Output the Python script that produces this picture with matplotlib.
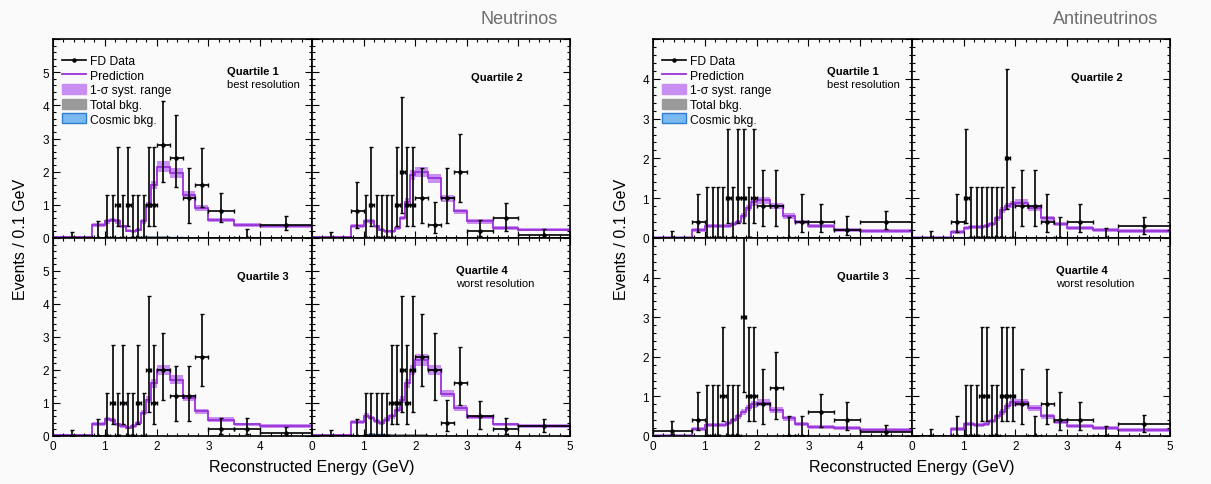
import numpy as np
import matplotlib.pyplot as plt
from matplotlib.patches import Patch
from matplotlib.lines import Line2D
from matplotlib.ticker import MultipleLocator

plt.rcParams['font.family'] = ['Liberation Sans', 'DejaVu Sans']

# reconstructed energy bin edges (GeV)
edges = np.array([0.0, 0.75, 1.0, 1.1, 1.2, 1.3, 1.4, 1.5, 1.6, 1.7, 1.8, 1.9,
                  2.0, 2.25, 2.5, 2.75, 3.0, 3.5, 4.0, 5.0])

# Feldman-Cousins 68% intervals for n = 0..10 observed events
fc_lo = [0.00, 0.37, 0.74, 1.10, 2.34, 2.75, 3.82, 4.25, 5.30, 6.33, 6.78]
fc_hi = [1.29, 2.75, 4.25, 5.30, 6.78, 7.81, 9.28, 10.30, 11.32, 12.79, 13.81]

# neutrino mode: observed events per bin
nu_q1_counts = [0, 0, 0, 0, 1, 0, 1, 0, 0, 0, 1, 1, 7, 6, 3, 4, 4, 0, 4]
nu_q2_counts = [0, 2, 0, 1, 0, 0, 0, 0, 1, 2, 1, 1, 3, 1, 3, 5, 1, 3, 1]
nu_q3_counts = [0, 0, 0, 1, 0, 1, 0, 0, 1, 0, 2, 1, 5, 3, 3, 6, 1, 1, 1]
nu_q4_counts = [0, 0, 0, 0, 0, 0, 0, 1, 1, 2, 1, 2, 6, 5, 1, 4, 3, 1, 3]

# neutrino mode: prediction (events / 0.1 GeV)
nu_q1_pred = [0.02, 0.40, 0.50, 0.55, 0.50, 0.35, 0.22, 0.20, 0.25, 0.50, 1.00, 1.60,
              2.15, 1.95, 1.30, 0.90, 0.55, 0.40, 0.35]
nu_q2_pred = [0.02, 0.37, 0.52, 0.50, 0.35, 0.25, 0.20, 0.20, 0.30, 0.60, 1.10, 1.90,
              2.00, 1.80, 1.20, 0.80, 0.50, 0.30, 0.25]
nu_q3_pred = [0.02, 0.37, 0.52, 0.48, 0.35, 0.30, 0.25, 0.30, 0.40, 0.70, 1.10, 1.60,
              2.00, 1.70, 1.15, 0.75, 0.50, 0.35, 0.30]
nu_q4_pred = [0.03, 0.42, 0.62, 0.55, 0.45, 0.40, 0.50, 0.60, 0.80, 1.10, 1.60, 2.00,
              2.30, 2.00, 1.28, 0.85, 0.57, 0.35, 0.30]

# antineutrino mode: observed events per bin
anu_q1_counts = [0, 1, 0, 0, 0, 0, 1, 0, 1, 1, 0, 1, 2, 2, 0, 1, 2, 1, 4]
anu_q2_counts = [0, 1, 1, 0, 0, 0, 0, 0, 0, 0, 2, 0, 2, 2, 1, 0, 2, 0, 3]
anu_q3_counts = [1, 1, 0, 0, 0, 1, 0, 0, 0, 3, 1, 1, 2, 3, 0, 0, 3, 2, 1]
anu_q4_counts = [0, 0, 0, 0, 0, 1, 1, 0, 0, 1, 1, 1, 2, 0, 2, 1, 2, 0, 3]

# antineutrino mode: prediction (events / 0.1 GeV)
anu_q1_pred = [0.01, 0.20, 0.30, 0.30, 0.30, 0.30, 0.30, 0.35, 0.40, 0.55, 0.75, 0.90,
               0.95, 0.80, 0.55, 0.40, 0.30, 0.20, 0.18]
anu_q2_pred = [0.01, 0.15, 0.25, 0.28, 0.28, 0.28, 0.30, 0.35, 0.50, 0.70, 0.80, 0.85,
               0.88, 0.75, 0.50, 0.35, 0.25, 0.20, 0.17]
anu_q3_pred = [0.01, 0.18, 0.28, 0.28, 0.28, 0.28, 0.32, 0.40, 0.50, 0.60, 0.70, 0.80,
               0.84, 0.65, 0.45, 0.30, 0.22, 0.20, 0.15]
anu_q4_pred = [0.00, 0.18, 0.30, 0.30, 0.28, 0.28, 0.30, 0.38, 0.50, 0.60, 0.75, 0.85,
               0.85, 0.70, 0.50, 0.35, 0.25, 0.20, 0.15]

# backgrounds (events / 0.1 GeV)
nu_q1_bkg = [0.0, 0.01, 0.01, 0.01, 0.01, 0.01, 0.01, 0.02, 0.02, 0.04, 0.05, 0.05,
             0.05, 0.04, 0.02, 0.02, 0.01, 0.01, 0.01]
nu_q1_cos = [0.0, 0.0, 0.0, 0.0, 0.0, 0.0, 0.01, 0.01, 0.02, 0.03, 0.04, 0.04,
             0.04, 0.02, 0.01, 0.0, 0.0, 0.0, 0.0]
nu_q4_bkg = [0.01, 0.02, 0.07, 0.08, 0.07, 0.06, 0.05, 0.05, 0.05, 0.05, 0.05, 0.05,
             0.05, 0.04, 0.03, 0.02, 0.02, 0.01, 0.01]
nu_q4_cos = [0.0, 0.01, 0.06, 0.07, 0.06, 0.05, 0.03, 0.02, 0.01, 0.01, 0.01, 0.01,
             0.01, 0.01, 0.0, 0.0, 0.0, 0.0, 0.0]
small_bkg = [0.0, 0.01, 0.01, 0.01, 0.01, 0.01, 0.01, 0.01, 0.01, 0.01, 0.01, 0.01,
             0.01, 0.01, 0.01, 0.01, 0.01, 0.0, 0.0]
small_cos = [0.0] * 19

syst_frac = 0.06
syst_abs = 0.035

line_color = '#9a30d8'
band_color = '#c98ef2'
bkg_color = '#9a9a9a'
cos_fill = '#7ab8f0'
cos_edge = '#2f7fd0'
bg = '#fafafa'

W, H = 1211, 485
fig = plt.figure(figsize=(W / 100, H / 100), dpi=100, facecolor=bg)


def add_ax(x0, x1, y0, y1):
    return fig.add_axes([x0 / W, 1 - y1 / H, (x1 - x0) / W, (y1 - y0) / H], facecolor=bg)


def draw_panel(ax, counts, pred, tot_bkg, cos_bkg, ymax):
    widths = np.diff(edges)
    centers = edges[:-1] + widths / 2
    scale = 0.1 / widths
    counts = np.array(counts)
    pred = np.array(pred)
    y = counts * scale
    lo = (counts - np.array(fc_lo)[counts]) * scale
    hi = (np.array(fc_hi)[counts] - counts) * scale
    err = pred * syst_frac + syst_abs
    ax.stairs(pred + err, edges, baseline=pred - err, fill=True, color=band_color, lw=0)
    ax.stairs(tot_bkg, edges, fill=True, color=bkg_color, lw=0)
    ax.stairs(cos_bkg, edges, fill=True, color=cos_fill, lw=0)
    ax.stairs(cos_bkg, edges, color=cos_edge, lw=1.0)
    ax.stairs(pred, edges, color=line_color, lw=1.3)
    ax.errorbar(centers, y, xerr=widths / 2, yerr=[lo, hi], fmt='o', ms=2.2,
                color='k', lw=1.2, capsize=1.5, capthick=1.0)
    ax.set_xlim(0, 5)
    ax.set_ylim(0, ymax)
    ax.xaxis.set_minor_locator(MultipleLocator(0.2))
    ax.yaxis.set_minor_locator(MultipleLocator(0.2))
    ax.tick_params(which='both', direction='in', top=True, right=True, labelsize=8.5,
                   width=0.8, pad=3)
    ax.tick_params(which='major', length=5)
    ax.tick_params(which='minor', length=2.5)
    for s in ax.spines.values():
        s.set_linewidth(1.2)


def label_ticks(ax, ymax, left, bottom, last_x):
    ax.set_xticks(range(6))
    ax.set_yticks(range(ymax + 1))
    if bottom:
        ax.set_xticklabels([str(i) for i in range(5)] + (['5'] if last_x else ['']))
    else:
        ax.set_xticklabels([''] * 6)
    if left:
        ax.set_yticklabels([str(i) for i in range(ymax)] + [''])
    else:
        ax.set_yticklabels([''] * (ymax + 1))


def add_legend(ax):
    handles = [
        Line2D([0], [0], color='k', lw=1.2, marker='o', ms=2.2),
        Line2D([0], [0], color=line_color, lw=1.3),
        Patch(facecolor=band_color, edgecolor=band_color),
        Patch(facecolor=bkg_color, edgecolor=bkg_color),
        Patch(facecolor=cos_fill, edgecolor=cos_edge),
    ]
    labels = ['FD Data', 'Prediction', '1-σ syst. range', 'Total bkg.', 'Cosmic bkg.']
    ax.legend(handles, labels, loc='upper left', bbox_to_anchor=(0.035, 0.92), frameon=False,
              fontsize=8.7, handlelength=2.0, handleheight=0.9, handletextpad=0.3,
              labelspacing=0.2, borderpad=0, borderaxespad=0)


def quartile_text(ax, x, y, name, sub=None):
    ax.text(x, y, name, transform=ax.transAxes, fontsize=8, fontweight='bold', va='center')
    if sub:
        ax.text(x, y - 0.065, sub, transform=ax.transAxes, fontsize=8, va='center')


groups = [
    (53, 312, 570, 6, 'Neutrinos',
     [(nu_q1_counts, nu_q1_pred, nu_q1_bkg, nu_q1_cos),
      (nu_q2_counts, nu_q2_pred, small_bkg, small_cos),
      (nu_q3_counts, nu_q3_pred, small_bkg, small_cos),
      (nu_q4_counts, nu_q4_pred, nu_q4_bkg, nu_q4_cos)]),
    (653, 912, 1170, 5, 'Antineutrinos',
     [(anu_q1_counts, anu_q1_pred, small_bkg, small_cos),
      (anu_q2_counts, anu_q2_pred, small_bkg, small_cos),
      (anu_q3_counts, anu_q3_pred, small_bkg, small_cos),
      (anu_q4_counts, anu_q4_pred, small_bkg, small_cos)]),
]

top, mid, bot = 40, 239, 437
for xl, xm, xr, ymax, title, panels in groups:
    boxes = [(xl, xm, top, mid), (xm, xr, top, mid), (xl, xm, mid, bot), (xm, xr, mid, bot)]
    axes = []
    for i, (box, p) in enumerate(zip(boxes, panels)):
        ax = add_ax(*box)
        draw_panel(ax, p[0], p[1], p[2], p[3], ymax)
        label_ticks(ax, ymax, left=(i % 2 == 0), bottom=(i >= 2), last_x=(i == 3))
        axes.append(ax)
    add_legend(axes[0])
    quartile_text(axes[0], 0.67, 0.84, 'Quartile 1', 'best resolution')
    quartile_text(axes[1], 0.615, 0.81, 'Quartile 2')
    quartile_text(axes[2], 0.71, 0.81, 'Quartile 3')
    quartile_text(axes[3], 0.558, 0.84, 'Quartile 4', 'worst resolution')

    fig.text((xr - 12) / W, 1 - 20 / H, title, ha='right', va='center', fontsize=13,
             color='#6e6e6e')
    fig.text(xm / W, 1 - 468 / H, 'Reconstructed Energy (GeV)', ha='center', va='center',
             fontsize=11.5)
    fig.text((xl - 32) / W, 1 - mid / H, 'Events / 0.1 GeV', ha='center', va='center',
             rotation=90, fontsize=11.5)

fig.savefig('out.png', dpi=100, facecolor=bg)
